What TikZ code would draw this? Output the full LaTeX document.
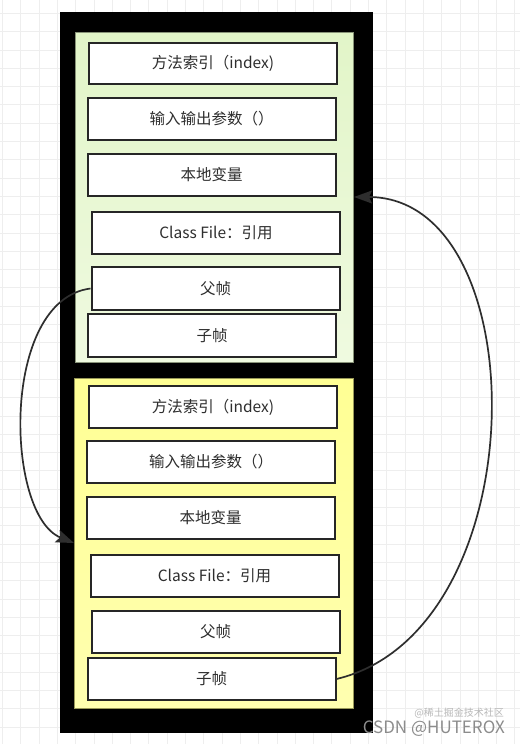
\documentclass[tikz,border=0pt]{standalone}
\usepackage{fontspec}
\setmainfont{Noto Sans CJK SC}
\usetikzlibrary{arrows.meta}
\definecolor{txt}{HTML}{2E2E2E}
\definecolor{boxline}{HTML}{262626}
\definecolor{gtop}{HTML}{E2F5C8}
\definecolor{gbot}{HTML}{EFFAE0}
\definecolor{ytop}{HTML}{FFFF94}
\definecolor{ybot}{HTML}{FFFFB0}
\definecolor{gridc}{HTML}{EEEEEE}
\tikzset{
  slot/.style={draw=boxline, line width=2pt, fill=white, minimum width=248pt, minimum height=42pt,
    inner sep=0pt, text=txt, font=\fontsize{15.5}{18}\selectfont},
  link/.style={draw=txt, line width=1.7pt, -{Stealth[length=18pt,width=13pt,inset=3pt]}},
}
\begin{document}
\begin{tikzpicture}[x=1pt,y=-1pt]
\useasboundingbox (0,0) rectangle (520,744);
\fill[white] (0,0) rectangle (520,744);
% background grid
\foreach \k in {0,...,28} {
  \draw[gridc, line width=0.7pt] ({2.4+18.3*\k},0) -- ({2.4+18.3*\k},744);
}
\foreach \k in {0,...,41} {
  \draw[gridc, line width=0.7pt] (0,{-5+18.3*\k}) -- (520,{-5+18.3*\k});
}
% outer frame
\node[fill=black, minimum width=313pt, minimum height=721pt, inner sep=0pt] (frame) at (216.5,372.5) {};
% panels
\node[draw=gtop!60!black, line width=0.6pt, top color=gtop, bottom color=gbot, minimum width=278pt, minimum height=330pt, inner sep=0pt] (gpanel) at (214,197) {};
\node[draw=ytop!60!black, line width=0.6pt, top color=ytop, bottom color=ybot, minimum width=279pt, minimum height=330pt, inner sep=0pt] (ypanel) at (213.5,543) {};
% top frame slots
\node[slot, minimum height=41pt] (t1) at (213,63.5) {方法索引（index)};
\node[slot] (t2) at (211.5,119) {输入输出参数（）};
\node[slot] (t3) at (211.5,175) {本地变量};
\node[slot] (t4) at (216,233) {Class File：引用};
\node[slot, minimum height=43pt] (t5) at (215.5,288.5) {父帧};
\node[slot, minimum height=43pt] (t6) at (212,335.5) {子帧};
% bottom frame slots
\node[slot] (b1) at (213,407) {方法索引（index)};
\node[slot] (b2) at (211,462) {输入输出参数（）};
\node[slot] (b3) at (210.5,518) {本地变量};
\node[slot] (b4) at (214.5,576) {Class File：引用};
\node[slot] (b5) at (215.5,632) {父帧};
\node[slot] (b6) at (211.5,679) {子帧};
% arrow ends
\coordinate (ytip) at (74,543);
\coordinate (gtip) at (354,197);
\draw[link] (t5.west) .. controls (0,300) and (5,515) .. (ytip);
\draw[link] (b6.east) .. controls (538,631) and (538,197) .. (gtip);
% watermark
\node[text=black!28, font=\fontsize{10}{11}\selectfont, inner sep=0pt, anchor=east] (wm2) at (504,713) {@稀土掘金技术社区};
\node[text=black!45, font=\fontsize{17}{19}\selectfont, inner sep=0pt, anchor=east] (wm1) at (505,729) {CSDN @HUTEROX};
\end{tikzpicture}
\end{document}
